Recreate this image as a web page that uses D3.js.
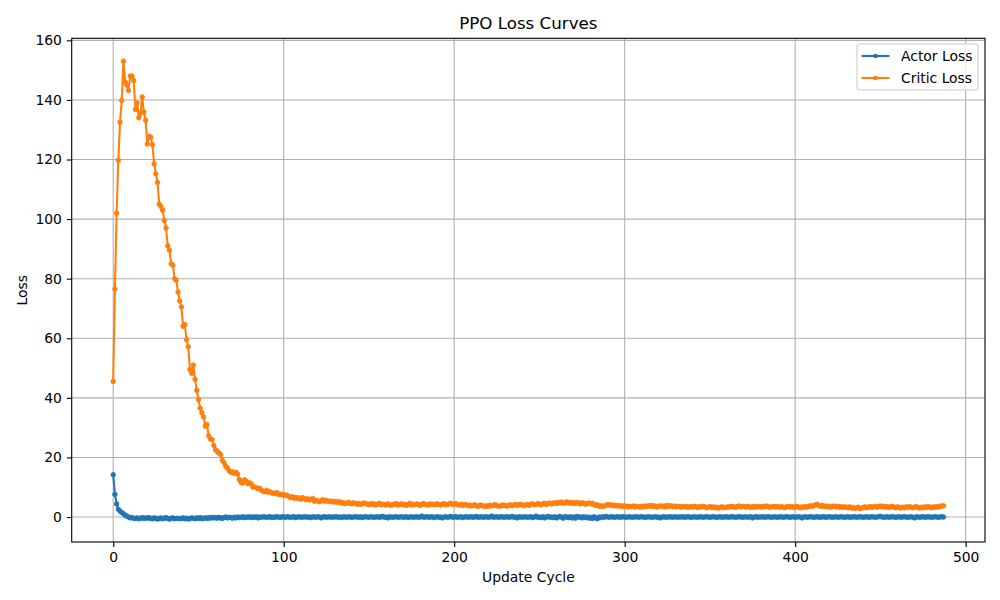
<!DOCTYPE html>
<html>
<head>
<meta charset="utf-8">
<script src="https://cdn.jsdelivr.net/npm/d3@7"></script>
<style>
html,body{margin:0;padding:0;background:#fff;}
svg{display:block;font-family:"DejaVu Sans",sans-serif;}
</style>
</head>
<body>
<svg id="chart" width="1000" height="600"></svg>
<script>
const chartTitle = "PPO Loss Curves";
const xLabel = "Update Cycle";
const yLabel = "Loss";
const seriesNames = ["Actor Loss", "Critic Loss"];
const xTicks = [0, 100, 200, 300, 400, 500];
const yTicks = [0, 20, 40, 60, 80, 100, 120, 140, 160];

const actorLoss = [
14.2,7.6,4.4,2.6,2.0,1.5,1.1,0.6,0.3,0.0,
-0.3,-0.2,-0.4,-0.5,-0.3,-0.6,-0.4,-0.2,-0.5,-0.3,
-0.4,-0.2,-0.5,-0.6,-0.3,-0.4,-0.7,-0.5,-0.3,-0.6,
-0.4,-0.2,-0.5,-0.7,-0.4,-0.3,-0.6,-0.5,-0.4,-0.6,
-0.5,-0.3,-0.6,-0.4,-0.7,-0.5,-0.3,-0.4,-0.6,-0.3,
-0.5,-0.2,-0.6,-0.4,-0.3,-0.5,-0.2,-0.4,-0.1,-0.3,
-0.2,-0.4,-0.1,-0.3,-0.5,-0.2,0.0,-0.3,-0.1,-0.2,
-0.4,-0.1,-0.3,0.0,-0.2,-0.1,0.1,-0.2,0.0,-0.1,
0.1,-0.2,0.0,-0.1,0.1,-0.3,0.0,-0.1,0.1,0.0,
-0.1,0.0,0.1,-0.2,0.0,-0.1,0.1,0.0,-0.2,0.1,
0.0,-0.1,0.1,0.0,-0.1,0.0,0.1,-0.2,0.0,0.1,
-0.1,0.0,0.0,0.1,-0.1,0.0,-0.2,0.1,0.0,-0.1,
0.1,0.0,-0.3,0.0,0.1,-0.1,0.0,0.1,-0.1,0.0,
0.0,0.1,-0.1,0.0,-0.2,0.1,0.0,-0.1,0.1,0.0,
-0.1,0.0,0.1,0.0,-0.1,0.1,-0.2,0.0,0.1,0.0,
-0.1,0.1,0.0,-0.1,0.0,0.1,-0.1,0.0,0.2,-0.1,
0.0,-0.3,0.1,0.0,-0.1,0.0,0.1,-0.1,0.0,0.1,
-0.1,0.0,0.1,-0.2,0.0,0.1,-0.1,0.0,0.1,-0.1,
0.0,0.3,-0.1,0.0,0.1,-0.1,0.0,0.1,-0.2,0.0,
0.1,-0.1,0.0,-0.3,0.0,0.1,-0.1,0.0,0.2,-0.1,
0.0,0.1,-0.1,0.0,0.1,-0.2,0.0,0.1,-0.1,0.0,
0.1,-0.1,0.0,0.2,-0.1,0.0,0.1,-0.1,0.0,0.1,
-0.1,0.0,0.3,-0.1,0.0,0.1,-0.1,0.0,0.1,-0.1,
0.0,0.1,-0.1,0.0,0.2,-0.1,0.0,-0.3,0.1,0.0,
-0.1,0.1,0.0,-0.1,0.0,0.1,-0.2,0.0,0.3,-0.1,
0.0,-0.2,0.1,-0.3,0.0,0.2,-0.1,0.0,-0.2,0.1,
-0.3,0.0,0.2,-0.1,-0.4,0.1,0.0,-0.2,0.1,-0.3,
0.0,-0.4,0.2,-0.1,0.0,-0.3,0.1,-0.2,0.0,-0.4,
-0.1,-0.5,0.1,-0.3,-0.6,0.0,-0.2,0.1,-0.1,0.2,
0.0,-0.1,0.1,0.0,-0.1,0.0,0.1,-0.1,0.0,0.1,
0.0,-0.1,0.0,0.1,-0.1,0.0,0.0,0.1,-0.1,0.0,
0.1,0.0,-0.1,0.0,0.1,0.0,-0.1,0.0,0.1,-0.1,
0.0,-0.3,0.0,0.1,-0.1,0.0,0.0,0.1,-0.1,0.0,
0.1,-0.1,0.0,0.0,0.1,-0.1,0.0,0.1,0.0,-0.1,
0.0,0.1,-0.1,0.0,0.0,0.1,-0.1,0.0,0.1,0.0,
-0.1,0.0,0.1,0.0,-0.1,0.0,0.1,-0.1,0.0,0.0,
0.1,-0.1,0.0,0.1,0.0,-0.1,0.0,0.1,0.0,-0.1,
0.0,0.1,-0.1,0.0,0.1,-0.3,0.0,0.1,-0.1,0.0,
0.0,0.1,-0.1,0.0,0.1,0.0,-0.1,0.0,0.1,-0.1,
0.0,0.0,0.1,-0.1,0.0,0.1,0.0,-0.1,0.0,0.1,
-0.1,0.0,0.1,0.0,-0.3,0.0,0.1,-0.1,0.0,0.1,
0.0,-0.1,0.0,0.1,-0.1,0.0,0.0,0.1,-0.1,0.0,
0.1,0.0,-0.1,0.0,0.1,-0.1,0.0,0.1,0.0,-0.1,
0.0,0.1,-0.1,0.0,0.0,0.1,-0.1,0.0,0.1,0.0,
-0.1,0.0,0.1,-0.1,0.0,0.1,0.0,-0.1,0.0,0.1,
0.2,0.0,-0.1,0.0,0.1,-0.1,0.0,0.1,0.0,-0.1,
0.0,0.1,-0.1,0.0,0.1,0.0,-0.1,0.0,0.1,-0.1,
-0.3,0.1,0.0,-0.1,0.0,0.1,-0.1,0.0,0.1,0.0,
-0.1,0.0,0.1,0.0,-0.1,0.0,0.1,0.0
];

const criticLoss = [
45.5,76.5,102.0,119.8,132.5,139.8,153.0,146.0,145.0,143.2,
148.0,148.0,146.5,136.8,139.0,134.0,135.5,141.0,136.0,133.2,
125.2,127.8,127.5,125.0,118.5,115.2,112.3,105.0,104.2,103.0,
99.5,97.0,91.0,89.5,85.0,84.5,80.0,79.5,75.5,72.5,
70.5,64.0,64.6,59.5,57.2,49.5,48.2,51.0,46.2,42.5,
39.5,36.5,35.0,33.6,30.5,31.0,27.2,26.2,26.0,24.0,
22.6,22.0,21.5,21.0,19.0,18.2,17.0,16.5,15.5,15.0,
15.2,14.6,15.0,14.4,12.6,11.6,11.4,12.5,12.0,11.2,
11.5,11.1,10.0,10.1,9.8,9.5,9.6,9.0,8.6,8.5,
9.0,8.3,8.5,8.1,8.0,7.9,8.2,7.6,7.7,7.4,
7.5,7.2,7.3,6.9,6.5,6.8,6.3,6.6,6.2,6.4,
6.0,6.5,6.2,5.8,6.1,5.7,5.9,6.2,5.3,5.6,
5.4,5.1,5.5,5.8,5.3,5.6,5.2,5.4,5.1,5.3,
5.0,5.2,4.9,5.1,4.6,4.8,4.5,4.7,4.9,4.6,
4.4,4.8,4.5,4.3,4.6,4.2,4.4,4.7,4.5,4.3,
4.1,4.5,4.2,4.4,4.0,4.3,4.6,4.1,4.3,4.2,
4.0,4.4,4.1,3.9,4.3,4.2,4.5,4.0,4.2,4.4,
4.1,4.3,3.9,4.2,4.6,4.0,4.3,4.1,4.4,4.2,
3.9,4.3,4.5,4.1,4.2,4.0,4.4,4.2,4.3,4.1,
4.4,4.2,4.0,4.3,4.5,4.1,4.2,4.4,4.6,4.3,
4.2,4.5,4.1,4.0,4.3,3.9,4.2,4.1,3.8,4.0,
3.7,3.9,4.1,3.8,3.6,3.9,4.0,3.7,3.5,3.8,
3.6,4.0,3.7,3.9,4.2,3.8,3.6,3.7,3.9,4.0,
3.8,3.7,3.9,4.1,3.8,4.0,4.2,3.9,4.1,4.3,
4.0,3.8,4.1,4.2,3.9,4.3,4.4,4.1,4.2,4.5,
4.3,4.1,4.4,4.6,4.2,4.5,4.7,4.4,4.6,4.8,
4.5,4.9,4.7,5.0,4.6,4.8,5.1,4.7,4.9,4.6,
4.8,4.5,4.9,4.7,4.4,4.8,4.6,4.3,4.5,4.7,
4.4,4.6,4.2,3.9,4.1,3.6,3.8,3.5,3.7,3.9,
4.2,4.0,4.1,3.8,4.0,3.7,3.9,3.6,3.8,3.5,
3.7,3.6,3.4,3.6,3.5,3.7,3.4,3.6,3.5,3.3,
3.6,3.4,3.7,3.5,3.8,3.6,3.9,3.5,3.7,3.4,
3.6,3.8,3.5,3.7,3.4,3.9,3.6,3.8,3.5,3.7,
3.4,3.6,3.5,3.3,3.5,3.4,3.6,3.2,3.4,3.5,
3.3,3.6,3.4,3.2,3.5,3.3,3.6,3.4,3.1,3.3,
3.5,3.2,3.4,3.1,3.3,3.0,3.2,3.4,3.1,3.3,
3.2,3.5,3.3,3.6,3.4,3.2,3.5,3.7,3.4,3.6,
3.5,3.3,3.6,3.4,3.2,3.5,3.3,3.6,3.4,3.5,
3.3,3.6,3.4,3.7,3.5,3.2,3.4,3.6,3.3,3.5,
3.4,3.2,3.5,3.3,3.1,3.4,3.6,3.3,3.5,3.2,
3.4,3.6,3.3,3.1,3.4,3.2,3.5,3.3,3.6,3.8,
3.5,3.9,4.1,4.3,3.8,3.6,3.9,3.5,3.7,3.4,
3.6,3.3,3.5,3.7,3.4,3.6,3.3,3.5,3.2,3.4,
3.3,3.1,3.4,3.0,3.2,2.9,3.1,3.3,2.8,3.0,
3.2,3.4,3.1,3.3,3.5,3.2,3.4,3.6,3.3,3.5,
3.7,3.4,3.6,3.3,3.5,3.2,3.4,3.6,3.3,3.1,
3.4,3.2,3.0,3.3,3.1,3.4,3.2,3.5,3.3,3.1,
3.3,3.5,3.2,3.0,3.3,3.1,3.4,3.2,3.5,3.3,
3.1,3.4,3.2,3.5,3.3,3.6,3.7,3.8
];

const colors = ["#1f77b4", "#ff7f0e"];
const allSeries = [actorLoss, criticLoss];

const svg = d3.select("#chart");
const W = 1000, H = 600;
const m = {left: 71.7, right: 15, top: 38.3, bottom: 58};
const pw = W - m.left - m.right, ph = H - m.top - m.bottom;

const n = Math.max(actorLoss.length, criticLoss.length);
const xMin = 0, xMax = n - 1;
const xPad = (xMax - xMin) * 0.05;
const allVals = actorLoss.concat(criticLoss);
const yMin = d3.min(allVals), yMax = d3.max(allVals);
const yPad = (yMax - yMin) * 0.05;

const x = d3.scaleLinear().domain([xMin - xPad, xMax + xPad]).range([m.left, m.left + pw]);
const y = d3.scaleLinear().domain([yMin - yPad, yMax + yPad]).range([m.top + ph, m.top]);

const g = svg.append("g");

// clip
svg.append("defs").append("clipPath").attr("id", "clip")
  .append("rect").attr("x", m.left).attr("y", m.top).attr("width", pw).attr("height", ph);

// grid
const grid = g.append("g");
xTicks.forEach(t => {
  grid.append("line").attr("x1", x(t)).attr("x2", x(t)).attr("y1", m.top).attr("y2", m.top + ph)
    .attr("stroke", "#b0b0b0").attr("stroke-width", 1.1);
});
yTicks.forEach(t => {
  grid.append("line").attr("x1", m.left).attr("x2", m.left + pw).attr("y1", y(t)).attr("y2", y(t))
    .attr("stroke", "#b0b0b0").attr("stroke-width", 1.1);
});

// series
const line = d3.line().x((d, i) => x(i)).y(d => y(d));
const plot = g.append("g").attr("clip-path", "url(#clip)");
allSeries.forEach((s, k) => {
  plot.append("path").datum(s).attr("d", line).attr("fill", "none")
    .attr("stroke", colors[k]).attr("stroke-width", 2.08).attr("stroke-linejoin", "round").attr("stroke-linecap", "square");
  plot.append("g").selectAll("circle").data(s).join("circle")
    .attr("cx", (d, i) => x(i)).attr("cy", d => y(d)).attr("r", 2.3)
    .attr("fill", colors[k]).attr("stroke", colors[k]).attr("stroke-width", 0.8);
});

// axes
const xAxis = d3.axisBottom(x).tickValues(xTicks).tickSize(4.9).tickPadding(4.9).tickFormat(d3.format("d"));
const yAxis = d3.axisLeft(y).tickValues(yTicks).tickSize(4.9).tickPadding(4.9).tickFormat(d3.format("d"));
const gx = g.append("g").attr("transform", `translate(0,${m.top + ph})`).call(xAxis);
const gy = g.append("g").attr("transform", `translate(${m.left},0)`).call(yAxis);
[gx, gy].forEach(a => {
  a.select(".domain").remove();
  a.selectAll(".tick line").attr("stroke", "#000").attr("stroke-width", 1.1);
  a.selectAll(".tick text").attr("fill", "#000").style("font-size", "13.9px").style("font-family", "DejaVu Sans");
});

// spines
g.append("rect").attr("x", m.left).attr("y", m.top).attr("width", pw).attr("height", ph)
  .attr("fill", "none").attr("stroke", "#000").attr("stroke-width", 1.1);

// labels
g.append("text").attr("x", m.left + pw / 2).attr("y", m.top - 9).attr("text-anchor", "middle")
  .style("font-size", "16.7px").text(chartTitle);
g.append("text").attr("x", m.left + pw / 2).attr("y", 582).attr("text-anchor", "middle")
  .style("font-size", "13.9px").text(xLabel);
g.append("text").attr("transform", `translate(27,${m.top + ph / 2}) rotate(-90)`).attr("text-anchor", "middle")
  .style("font-size", "13.9px").text(yLabel);

// legend
const lg = g.append("g");
const lx = 857, ly = 44, lw = 121, lh = 46;
lg.append("rect").attr("x", lx).attr("y", ly).attr("width", lw).attr("height", lh).attr("rx", 3)
  .attr("fill", "#fff").attr("fill-opacity", 0.8).attr("stroke", "#cccccc").attr("stroke-width", 1.1);
seriesNames.forEach((name, k) => {
  const yy = ly + 12 + k * 22;
  lg.append("line").attr("x1", lx + 4.5).attr("x2", lx + 32.5).attr("y1", yy).attr("y2", yy)
    .attr("stroke", colors[k]).attr("stroke-width", 2.08);
  lg.append("circle").attr("cx", lx + 18.5).attr("cy", yy).attr("r", 2.3).attr("fill", colors[k]);
  lg.append("text").attr("x", lx + 44).attr("y", yy).attr("dy", "0.35em")
    .style("font-size", "13.9px").text(name);
});
</script>
</body>
</html>
